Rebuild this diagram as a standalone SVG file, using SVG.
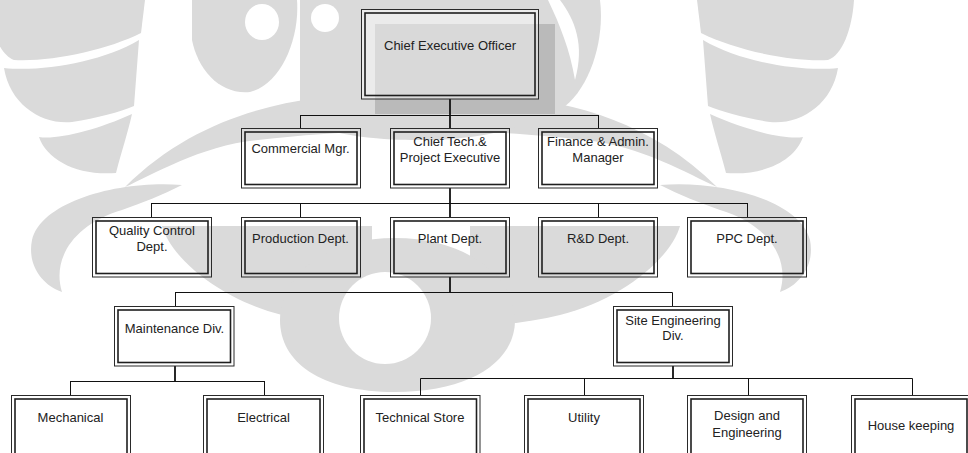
<svg xmlns="http://www.w3.org/2000/svg" width="968" height="453" viewBox="0 0 968 453">
<style>
.wm{fill:#dadada}
.wh{fill:#ffffff}
.o{fill:none;stroke:#2a2a2a;stroke-width:1}
.i{fill:none;stroke:#1e1e1e;stroke-width:1.6}
.t{font-family:"Liberation Sans",Arial,sans-serif;font-size:13px;fill:#222;text-anchor:middle}
.c{fill:none;stroke:#111;stroke-width:1}
.tk{fill:none;stroke:#111;stroke-width:1.8}
</style>
<rect x="0" y="0" width="968" height="453" fill="#ffffff"/>
<g id="watermark">
  <g id="wm-right">
    <path class="wm" d="M697,0 L854,0 C852,30 842,55 828,60 C790,62 735,50 701,33 Z"/>
    <path class="wm" d="M703,40 C740,62 800,72 838,68 C832,105 800,125 770,122 C745,118 722,112 708,106 Z"/>
    <path class="wm" d="M710,114 C745,130 785,140 803,137 C795,160 765,176 726,173 C720,150 714,132 710,114 Z"/>
    <path class="wm" d="M470,95 C540,95 640,110 717,187 C690,175 640,145 584,140 C540,135 500,132 470,132 Z"/>
    <path class="wm" d="M660,185 C720,180 800,200 810,240 C815,265 800,285 780,292 C790,260 770,225 720,210 C700,203 680,195 660,185 Z"/>
    <path class="wm" d="M470,226 L680,226 C670,260 620,300 560,315 C530,322 505,325 470,326 Z"/>
  </g>
  <use href="#wm-right" transform="matrix(-1 0 0 1 842 0)"/>
  <path class="wm" d="M192,0 L297,0 C300,40 280,85 250,92 C220,95 198,70 192,40 Z"/>
  <ellipse class="wh" cx="262" cy="22" rx="17" ry="18"/>
  <path class="wm" d="M300,0 L600,0 C605,40 590,90 560,110 C500,140 440,140 421,140 C400,140 340,140 300,120 Z"/>
  <circle class="wh" cx="325" cy="18" r="14"/>
  <path class="wh" d="M560,0 C575,20 585,45 575,80 C570,50 560,25 548,0 Z"/>
  <path class="wm" d="M395,238 C470,238 515,280 515,320 C515,362 470,392 395,392 C320,392 280,362 280,320 C280,280 320,238 395,238 Z"/>
  <circle class="wh" cx="385" cy="318" r="46"/>
  <rect x="375" y="24" width="180" height="90" fill="#bababa"/>
</g>
<g id="connectors">
  <path class="tk" d="M450,99 V115"/>
  <path class="c" d="M300,115.5 H598.5 M300.5,115 V128 M598.5,115 V128"/>
  <path class="tk" d="M450,115 V128"/>
  <path class="tk" d="M450,188 V203"/>
  <path class="c" d="M151,203.5 H747.5 M151.5,203 V217 M300.5,203 V217 M598.5,203 V217 M747.5,203 V217"/>
  <path class="tk" d="M450,203 V217"/>
  <path class="tk" d="M450,277 V292.5"/>
  <path class="c" d="M175,292.5 H672.5 M175.5,292.5 V306.5 M672.5,292.5 V306"/>
  <path class="tk" d="M175,366 V381"/>
  <path class="c" d="M70.5,381.5 H264.5 M70.5,381 V395.5 M264.5,381 V395.5"/>
  <path class="tk" d="M673,366 V378.5"/>
  <path class="c" d="M420.5,378.5 H912.5 M420.5,378.5 V395.5 M584.5,378.5 V395.5 M748.5,378.5 V395.5 M912.5,378.5 V395.5"/>
</g>
<g id="ceo">
  <rect x="361.5" y="9.5" width="177" height="89.5" class="o" style="fill:#ffffff;fill-opacity:0.45"/>
  <rect x="365" y="13" width="170" height="82.5" class="i"/>
  <text class="t" x="450" y="50">Chief Executive Officer</text>
</g>
<g id="commercial">
  <rect x="241.5" y="128.5" width="119" height="59.5" class="o"/>
  <rect x="245" y="132" width="112" height="52.5" class="i"/>
  <text class="t" x="300.5" y="153">Commercial Mgr.</text>
</g>
<g id="chieftech">
  <rect x="390.5" y="128.5" width="119" height="59.5" class="o"/>
  <rect x="394" y="132" width="112" height="52.5" class="i"/>
  <text class="t" x="450" y="146">Chief Tech.&amp;</text>
  <text class="t" x="450" y="161.5">Project Executive</text>
</g>
<g id="finance">
  <rect x="538.5" y="128.5" width="119" height="59.5" class="o"/>
  <rect x="542" y="132" width="112" height="52.5" class="i"/>
  <text class="t" x="598" y="146">Finance &amp; Admin.</text>
  <text class="t" x="598" y="161.5">Manager</text>
</g>
<g id="qc">
  <rect x="92.5" y="217.5" width="119" height="59.5" class="o"/>
  <rect x="96" y="221" width="112" height="52.5" class="i"/>
  <text class="t" x="152" y="235">Quality Control</text>
  <text class="t" x="152" y="251">Dept.</text>
</g>
<g id="production">
  <rect x="241.5" y="217.5" width="119" height="59.5" class="o"/>
  <rect x="245" y="221" width="112" height="52.5" class="i"/>
  <text class="t" x="300.5" y="243">Production Dept.</text>
</g>
<g id="plant">
  <rect x="390.5" y="217.5" width="119" height="59.5" class="o"/>
  <rect x="394" y="221" width="112" height="52.5" class="i"/>
  <text class="t" x="450" y="243">Plant Dept.</text>
</g>
<g id="rd">
  <rect x="538.5" y="217.5" width="119" height="59.5" class="o"/>
  <rect x="542" y="221" width="112" height="52.5" class="i"/>
  <text class="t" x="598" y="243">R&amp;D Dept.</text>
</g>
<g id="ppc">
  <rect x="687.5" y="217.5" width="119" height="59.5" class="o"/>
  <rect x="691" y="221" width="112" height="52.5" class="i"/>
  <text class="t" x="747" y="243">PPC Dept.</text>
</g>
<g id="maintenance">
  <rect x="114.5" y="306.5" width="119.5" height="59.5" class="o"/>
  <rect x="118" y="310" width="112.5" height="52.5" class="i"/>
  <text class="t" x="174.5" y="332.5">Maintenance Div.</text>
</g>
<g id="siteeng">
  <rect x="613.5" y="306.5" width="119" height="59.5" class="o"/>
  <rect x="617" y="310" width="112" height="52.5" class="i"/>
  <text class="t" x="673" y="325">Site Engineering</text>
  <text class="t" x="673" y="339.5">Div.</text>
</g>
<g id="mechanical">
  <rect x="11.5" y="395.5" width="119" height="70" class="o"/>
  <rect x="15" y="399" width="112" height="70" class="i"/>
  <text class="t" x="70.5" y="421.5">Mechanical</text>
</g>
<g id="electrical">
  <rect x="203.5" y="395.5" width="120" height="70" class="o"/>
  <rect x="207" y="399" width="113" height="70" class="i"/>
  <text class="t" x="263.5" y="421.5">Electrical</text>
</g>
<g id="techstore">
  <rect x="360.5" y="395.5" width="119.5" height="70" class="o"/>
  <rect x="364" y="399" width="112.5" height="70" class="i"/>
  <text class="t" x="420" y="421.5">Technical Store</text>
</g>
<g id="utility">
  <rect x="524.5" y="395.5" width="119" height="70" class="o"/>
  <rect x="528" y="399" width="112" height="70" class="i"/>
  <text class="t" x="584" y="421.5">Utility</text>
</g>
<g id="design">
  <rect x="687.5" y="395.5" width="119" height="70" class="o"/>
  <rect x="691" y="399" width="112" height="70" class="i"/>
  <text class="t" x="747" y="420">Design and</text>
  <text class="t" x="747" y="436.5">Engineering</text>
</g>
<g id="housekeeping">
  <rect x="851.5" y="395.5" width="119" height="70" class="o"/>
  <rect x="855" y="399" width="112" height="70" class="i"/>
  <text class="t" x="911" y="430">House keeping</text>
</g>
</svg>
